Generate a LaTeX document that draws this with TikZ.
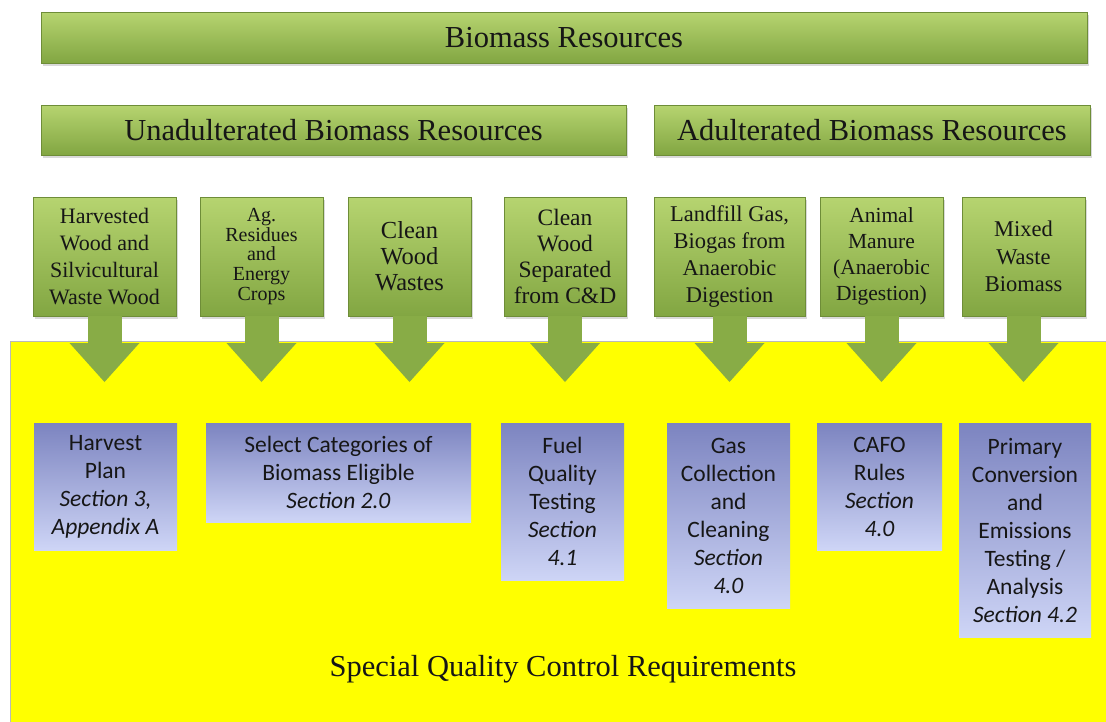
\documentclass[tikz,border=0pt]{standalone}
\usepackage{fontspec}
\setmainfont{Liberation Serif}
\newfontfamily\calfont{Carlito}
\usetikzlibrary{arrows.meta,shadows}

\definecolor{gtop}{RGB}{182,212,112}
\definecolor{gbot}{RGB}{130,166,66}
\definecolor{garrow}{RGB}{136,172,70}
\definecolor{btop}{RGB}{124,132,192}
\definecolor{bbot}{RGB}{206,213,246}
\definecolor{ink}{RGB}{22,22,22}
\definecolor{qcyellow}{RGB}{255,255,0}

\tikzset{
  greenbar/.style={draw=gbot!85!black, line width=0.5pt, top color=gtop, bottom color=gbot,
    drop shadow={opacity=0.3,shadow xshift=2pt,shadow yshift=-3pt},
    text=ink, inner sep=0pt, font=\fontsize{30.5}{34}\selectfont},
  srcbox/.style={greenbar, align=center, minimum height=119pt},
  reqbox/.style={top color=btop, bottom color=bbot, text=ink, align=center,
    inner sep=0pt, anchor=north, font=\calfont\fontsize{23.5}{28}\selectfont},
  fatarrow/.style={draw=garrow, line width=34pt,
    -{Triangle[width=70pt,length=39pt,line width=0pt]}},
}

\begin{document}
\begin{tikzpicture}[x=1pt,y=-1pt]
  \useasboundingbox (0,0) rectangle (1106,721);
  % yellow area
  \filldraw[fill=qcyellow, draw=gray!55, line width=1pt] (10,341) rectangle (1112,727);
  \node[font=\fontsize{30.5}{34}\selectfont, text=ink] (qc) at (563,669) {Special Quality Control Requirements};
  \coordinate (tips) at (0,382);

  % resource bars
  \node[greenbar, minimum width=1046pt, minimum height=51pt] (bio) at (564,37.5) {Biomass Resources};
  \node[greenbar, minimum width=585pt, minimum height=50pt] (unadult) at (333.5,130) {Unadulterated Biomass Resources};
  \node[greenbar, minimum width=436pt, minimum height=50pt] (adult) at (872,130) {Adulterated Biomass Resources};

  % source boxes
  \node[srcbox, minimum width=143pt, font=\fontsize{22}{26.7}\selectfont] (g1) at (104.5,256.5) {Harvested\\Wood and\\Silvicultural\\Waste Wood};
  \node[srcbox, minimum width=123pt, font=\fontsize{20}{19.8}\selectfont] (g2) at (261.5,256.5) {Ag.\\Residues\\and\\Energy\\Crops};
  \node[srcbox, minimum width=123pt, font=\fontsize{24.5}{26}\selectfont] (g3) at (409.5,256.5) {Clean\\Wood\\Wastes};
  \node[srcbox, minimum width=122pt, font=\fontsize{23.5}{26}\selectfont] (g4) at (565,256.5) {Clean\\Wood\\Separated\\from C\&D};
  \node[srcbox, minimum width=151pt, font=\fontsize{22.5}{27}\selectfont] (g5) at (729.5,256.5) {Landfill Gas,\\Biogas from\\Anaerobic\\Digestion};
  \node[srcbox, minimum width=123pt, font=\fontsize{21.5}{26}\selectfont] (g6) at (881.5,256.5) {Animal\\Manure\\(Anaerobic\\Digestion)};
  \node[srcbox, minimum width=123pt, font=\fontsize{22.5}{27.5}\selectfont] (g7) at (1023.5,256.5) {Mixed\\Waste\\Biomass};

  % arrows into the yellow area
  \foreach \g in {g1,g2,g3,g4,g5,g6,g7}
    \draw[fatarrow] (\g.south) -- (\g.south |- tips);

  % requirement boxes
  \node[reqbox, minimum width=143pt, minimum height=127pt] (r1) at (105.5,423) {Harvest\\Plan\\\textit{Section 3,}\\\textit{Appendix A}};
  \node[reqbox, minimum width=265pt, minimum height=99pt] (r2) at (338.5,423) {Select Categories of\\Biomass Eligible\\\textit{Section 2.0}};
  \node[reqbox, minimum width=123pt, minimum height=157pt] (r3) at (562.5,423) {Fuel\\Quality\\Testing\\\textit{Section}\\\textit{4.1}};
  \node[reqbox, minimum width=123pt, minimum height=185pt] (r4) at (728.5,423) {Gas\\Collection\\and\\Cleaning\\\textit{Section}\\\textit{4.0}};
  \node[reqbox, minimum width=125pt, minimum height=127pt] (r5) at (879.5,423) {CAFO\\Rules\\\textit{Section}\\\textit{4.0}};
  \node[reqbox, minimum width=132pt, minimum height=214pt] (r6) at (1025,423) {Primary\\Conversion\\and\\Emissions\\Testing /\\Analysis\\\textit{Section 4.2}};
\end{tikzpicture}
\end{document}
